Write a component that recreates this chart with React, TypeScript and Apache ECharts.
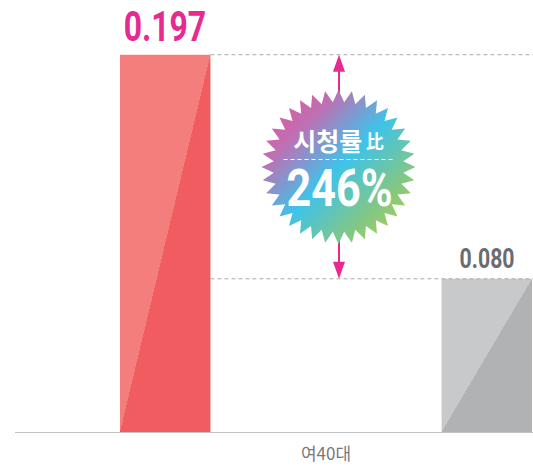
import React, { useEffect, useRef } from 'react';
import * as echarts from 'echarts';

const categories = ['여40대'];
const seriesTarget = [0.197];
const seriesCompare = [0.08];
const badgeTitle = '시청률';
const badgeSuffix = '比';
const badgeRatio = '246%';

const Y_MAX = 0.2;
const GRID = { left: 120, right: 1, top: 49, bottom: 35 };
const W = 533;
const H = 467;
const BAR_W = 91;
const GAP_RATIO = 2.54;
const NUM_FONT = "Roboto, sans-serif";

function diagGradient(light: string, dark: string) {
  return new echarts.graphic.LinearGradient(0, 0, 1, 1, [
    { offset: 0, color: light },
    { offset: 0.5, color: light },
    { offset: 0.5, color: dark },
    { offset: 1, color: dark },
  ]);
}

export default function App() {
  const ref = useRef<HTMLDivElement>(null);
  useEffect(() => {
    const chart = echarts.init(ref.current!, null, { renderer: 'svg' });
    const cx = 338.5;
    const cy = 167;
    const N = 36;
    const pts: number[][] = [];
    for (let i = 0; i < 2 * N; i++) {
      const r = i % 2 === 0 ? 77 : 65;
      const ang = -Math.PI / 2 + (i * Math.PI) / N;
      pts.push([cx + r * Math.cos(ang), cy + r * Math.sin(ang)]);
    }
    const groupW = BAR_W * (2 + GAP_RATIO);

    const option: any = {
      animation: false,
      backgroundColor: '#ffffff',
      grid: GRID,
      xAxis: {
        type: 'category',
        data: categories,
        axisLine: { show: false },
        axisTick: { show: false },
        axisLabel: {
          color: '#777777',
          fontSize: 17,
          fontFamily: "'Noto Sans CJK KR', sans-serif",
          margin: 12,
        },
      },
      yAxis: {
        type: 'value',
        min: 0,
        max: Y_MAX,
        show: false,
        splitLine: { show: false },
      },
      series: [
        {
          type: 'bar',
          data: seriesTarget,
          barWidth: BAR_W,
          barGap: GAP_RATIO * 100 + '%',
          itemStyle: { color: diagGradient('#F47E7C', '#F05C5F') },
          z: 2,
        },
        {
          type: 'bar',
          data: seriesCompare,
          barWidth: BAR_W,
          itemStyle: { color: diagGradient('#C8C9CB', '#B1B2B4') },
          z: 2,
        },
        {
          type: 'custom',
          z: 5,
          data: [[0, seriesTarget[0], seriesCompare[0]]],
          renderItem: (params: any, api: any) => {
            const pTop = api.coord([0, api.value(1)]);
            const pLow = api.coord([0, api.value(2)]);
            const cs = params.coordSys;
            const redLeft = pTop[0] - groupW / 2;
            const redRight = redLeft + BAR_W;
            const grayRight = pTop[0] + groupW / 2;
            const grayLeft = grayRight - BAR_W;
            const rightEdge = cs.x + cs.width + 1;
            const ax = pTop[0] + 13;
            const dash = { stroke: '#AAAAAA', lineWidth: 1, lineDash: [4, 3] };
            const mag = '#E8298F';
            return {
              type: 'group',
              children: [
                { type: 'line', shape: { x1: redRight, y1: pTop[1], x2: rightEdge, y2: pTop[1] }, style: dash },
                { type: 'line', shape: { x1: redRight, y1: pLow[1], x2: rightEdge, y2: pLow[1] }, style: dash },
                { type: 'line', shape: { x1: ax, y1: pTop[1] + 16, x2: ax, y2: pLow[1] - 16 }, style: { stroke: mag, lineWidth: 2 } },
                { type: 'polygon', shape: { points: [[ax, pTop[1]], [ax - 6, pTop[1] + 17], [ax + 6, pTop[1] + 17]] }, style: { fill: mag } },
                { type: 'polygon', shape: { points: [[ax, pLow[1]], [ax - 6, pLow[1] - 17], [ax + 6, pLow[1] - 17]] }, style: { fill: mag } },
                {
                  type: 'text',
                  x: (redLeft + redRight) / 2,
                  y: pTop[1] - 28,
                  scaleX: 0.76,
                  style: {
                    text: Number(api.value(1)).toFixed(3),
                    align: 'center',
                    verticalAlign: 'middle',
                    fill: mag,
                    fontSize: 42,
                    fontWeight: 'bold',
                    fontFamily: NUM_FONT,
                  },
                },
                {
                  type: 'text',
                  x: (grayLeft + grayRight) / 2,
                  y: pLow[1] - 20,
                  scaleX: 0.76,
                  style: {
                    text: Number(api.value(2)).toFixed(3),
                    align: 'center',
                    verticalAlign: 'middle',
                    fill: '#6B6C6E',
                    fontSize: 28,
                    fontWeight: 'bold',
                    fontFamily: NUM_FONT,
                  },
                },
              ],
            };
          },
        },
      ],
      graphic: [
        {
          type: 'line',
          z: 1,
          shape: { x1: 15, y1: 432.5, x2: W, y2: 432.5 },
          style: { stroke: '#C2C2C4', lineWidth: 1 },
        },
        {
          type: 'polygon',
          z: 100,
          shape: { points: pts },
          style: {
            fill: new echarts.graphic.LinearGradient(0, 0, 1, 1, [
              { offset: 0, color: '#F04896' },
              { offset: 0.25, color: '#C06FB3' },
              { offset: 0.5, color: '#3EC3EA' },
              { offset: 0.75, color: '#82C785' },
              { offset: 1, color: '#BCD62E' },
            ]),
          },
        },
        {
          type: 'text',
          z: 101,
          x: cx,
          y: 140,
          style: {
            text: '{a|' + badgeTitle + '} {b|' + badgeSuffix + '}',
            align: 'center',
            verticalAlign: 'middle',
            fill: '#ffffff',
            rich: {
              a: { fontSize: 25, fontWeight: 'bold', fontFamily: "'Noto Sans CJK KR', sans-serif", fill: '#ffffff' },
              b: { fontSize: 18, fontWeight: 'bold', fontFamily: "'Noto Sans CJK KR', sans-serif", fill: '#ffffff' },
            },
          },
        },
        {
          type: 'line',
          z: 101,
          shape: { x1: cx - 55, y1: 159.5, x2: cx + 57, y2: 159.5 },
          style: { stroke: '#ffffff', lineWidth: 1, lineDash: [4, 3] },
        },
        {
          type: 'text',
          z: 101,
          x: cx + 1,
          y: 189,
          scaleX: 0.83,
          style: {
            text: badgeRatio,
            align: 'center',
            verticalAlign: 'middle',
            fill: '#ffffff',
            fontSize: 52,
            fontWeight: 'bold',
            fontFamily: NUM_FONT,
          },
        },
      ],
    };
    chart.setOption(option);
    return () => chart.dispose();
  }, []);
  return <div ref={ref} style={{ position: 'fixed', left: 0, top: 0, width: W, height: H }} />;
}
